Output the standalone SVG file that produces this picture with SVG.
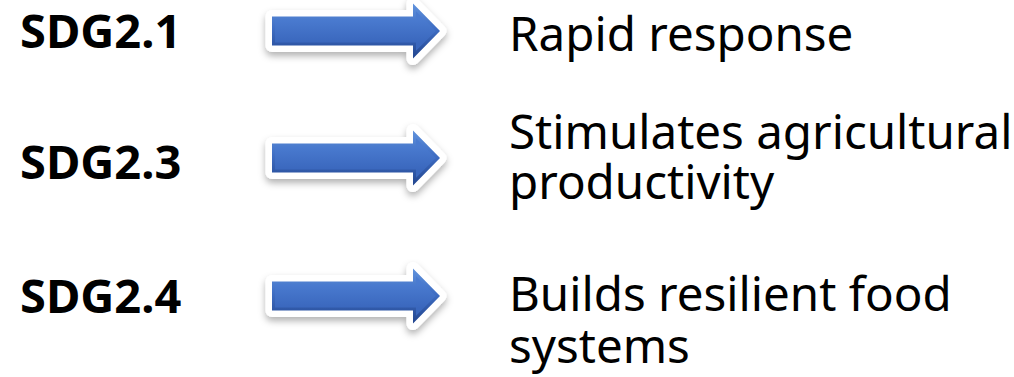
<svg xmlns="http://www.w3.org/2000/svg" width="1014" height="377" viewBox="0 0 1014 377">
  <style>
    .sdg { font-family: "Noto Sans", "Open Sans", "Liberation Sans", sans-serif; font-weight: 700; font-size: 47px; fill: #000; }
    .out { font-family: "Noto Sans", "Open Sans", "Liberation Sans", sans-serif; font-weight: 400; font-size: 47.5px; fill: #000; }
  </style>
  <defs>
    <filter id="softShadow" x="-10%" y="-40%" width="120%" height="190%">
      <feDropShadow dx="0" dy="4" stdDeviation="3.5" flood-color="#000" flood-opacity="0.3"/>
    </filter>
    <linearGradient id="edgeGrad" gradientUnits="userSpaceOnUse" x1="0" y1="-27.5" x2="0" y2="27.5">
      <stop offset="0" stop-color="#6193dd"/>
      <stop offset="0.45" stop-color="#3f6ec4"/>
      <stop offset="1" stop-color="#22458e"/>
    </linearGradient>
    <linearGradient id="faceGrad" gradientUnits="userSpaceOnUse" x1="0" y1="-12" x2="0" y2="12">
      <stop offset="0" stop-color="#4a7bd0"/>
      <stop offset="1" stop-color="#3a67bd"/>
    </linearGradient>
    <!-- block arrow centred on y=0 -->
    <path id="arrowShape" d="M272,-14.5 H413 V-27.5 L440,0 L413,27.5 V14.5 H272 Z"/>
    <path id="arrowFace" d="M275,-11.5 H416 V-19.8 L435.8,0 L416,19.8 V11.5 H275 Z"/>
    <g id="blockArrow">
      <use href="#arrowShape" fill="#fff" stroke="#fff" stroke-width="13" stroke-linejoin="round" filter="url(#softShadow)"/>
      <use href="#arrowShape" fill="url(#edgeGrad)"/>
      <use href="#arrowFace" fill="url(#faceGrad)"/>
    </g>
  </defs>

  <!-- connectors -->
  <g id="connectors">
    <use href="#blockArrow" transform="translate(0,31)"/>
    <use href="#blockArrow" transform="translate(0,158)"/>
    <use href="#blockArrow" transform="translate(0,296)"/>
  </g>

  <!-- targets -->
  <g id="sdg21">
    <text class="sdg" x="20" y="48">SDG2.1</text>
  </g>
  <g id="sdg23">
    <text class="sdg" x="20" y="179">SDG2.3</text>
  </g>
  <g id="sdg24">
    <text class="sdg" x="20" y="313">SDG2.4</text>
  </g>

  <!-- outcomes -->
  <g id="rapid-response">
    <text class="out" x="509" y="51">Rapid response</text>
  </g>
  <g id="agri-productivity">
    <text class="out" x="509" y="149">Stimulates agricultural<tspan x="509" y="199">productivity</tspan></text>
  </g>
  <g id="resilient-food">
    <text class="out" x="509" y="311">Builds resilient food<tspan x="509" y="363">systems</tspan></text>
  </g>
</svg>
